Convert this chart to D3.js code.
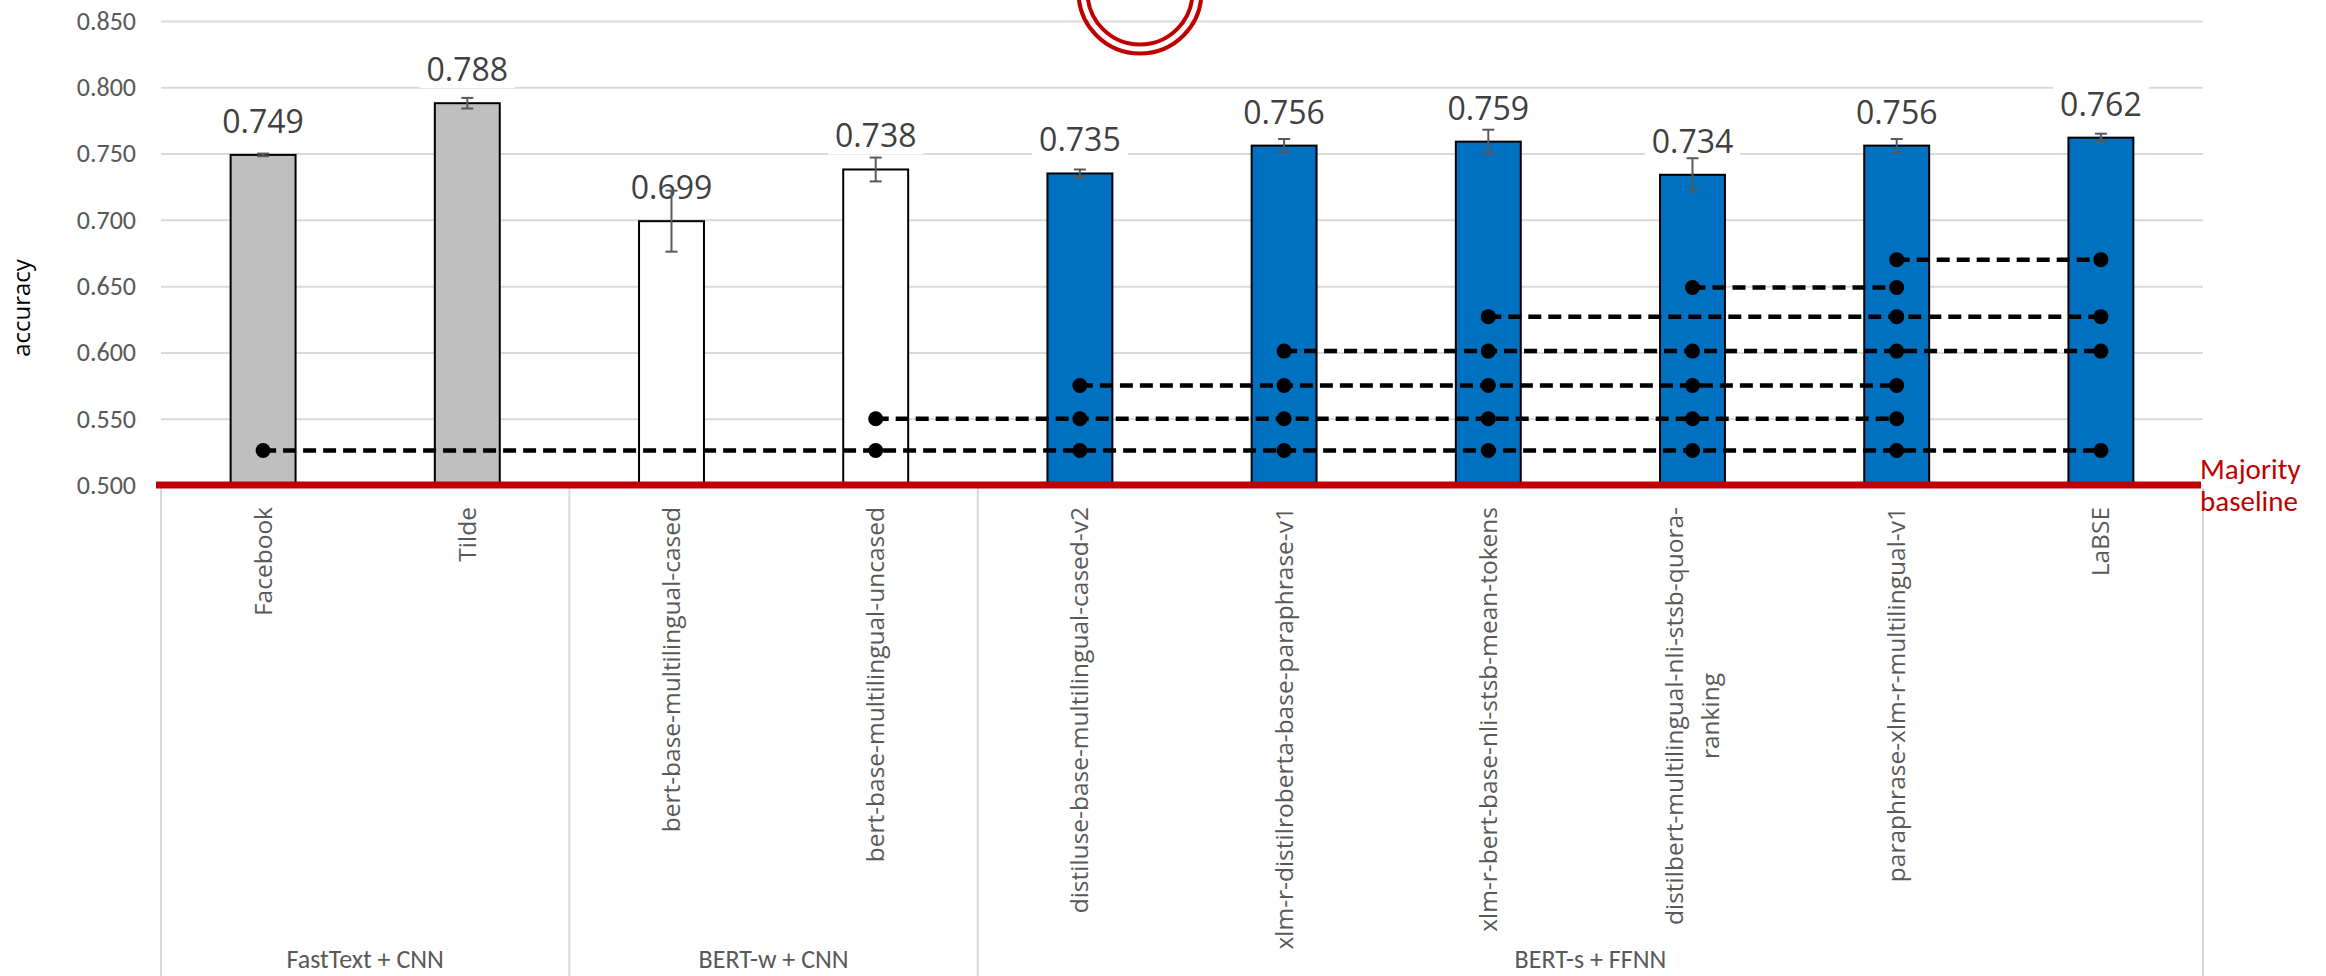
<!DOCTYPE html>
<html>
<head>
<meta charset="utf-8">
<script src="https://cdn.jsdelivr.net/npm/d3@7"></script>
<style>
  body { margin: 0; background: #fff; }
  svg { display: block; }
</style>
</head>
<body>
<script>
// data
const categories = [
  'Facebook', 'Tilde',
  'bert-base-multilingual-cased', 'bert-base-multilingual-uncased',
  'distiluse-base-multilingual-cased-v2', 'xlm-r-distilroberta-base-paraphrase-v1',
  'xlm-r-bert-base-nli-stsb-mean-tokens', 'distilbert-multilingual-nli-stsb-quora-ranking',
  'paraphrase-xlm-r-multilingual-v1', 'LaBSE'
]
const groupOf = [
  'FastText + CNN', 'FastText + CNN',
  'BERT-w + CNN', 'BERT-w + CNN',
  'BERT-s + FFNN', 'BERT-s + FFNN', 'BERT-s + FFNN', 'BERT-s + FFNN', 'BERT-s + FFNN', 'BERT-s + FFNN'
]
const accuracy = [0.749, 0.788, 0.699, 0.738, 0.735, 0.756, 0.759, 0.734, 0.756, 0.762]
const errors   = [0.001, 0.004, 0.023, 0.009, 0.003, 0.005, 0.009, 0.0125, 0.005, 0.003]
const yTicks = [0.500, 0.550, 0.600, 0.650, 0.700, 0.750, 0.800, 0.850]
const baseline = 0.500

// significance groups: level on the y axis and member indices
const sigLevels = [0.526, 0.550, 0.575, 0.601, 0.627, 0.649, 0.670]
const sigMembers = [
  [0, 3, 4, 5, 6, 7, 8, 9],
  [3, 4, 5, 6, 7, 8],
  [4, 5, 6, 7, 8],
  [5, 6, 7, 8, 9],
  [6, 8, 9],
  [7, 8],
  [8, 9]
]

const groupColor = {
  'FastText + CNN': '#BFBFBF',
  'BERT-w + CNN': '#FFFFFF',
  'BERT-s + FFNN': '#0070C0'
}

const width = 2326, height = 976
const plotL = 161, plotR = 2203, plotT = 21, plotB = 485
const sans = "'Open Sans', 'Noto Sans', sans-serif"
const narrow = "Carlito, 'Open Sans', sans-serif"
const red = '#C00000'

const svg = d3.select('body').append('svg')
  .attr('width', width)
  .attr('height', height)

const x = d3.scaleBand().domain(categories).range([plotL, plotR])
  .paddingInner(0.682).paddingOuter(0.341)
const y = d3.scaleLinear().domain([0.5, 0.85]).range([plotB, plotT])

// gridlines + y tick labels
const yAxis = svg.append('g')
  .attr('transform', `translate(${plotL},0)`)
  .call(d3.axisLeft(y).tickValues(yTicks).tickFormat(d3.format('.3f'))
    .tickSize(-(plotR - plotL)).tickPadding(25))
yAxis.select('.domain').remove()
yAxis.selectAll('.tick line').attr('stroke', '#D9D9D9').attr('stroke-width', 2)
yAxis.selectAll('.tick text')
  .attr('fill', '#595959')
  .style('font-family', narrow)
  .style('font-size', '26px')

svg.append('text')
  .attr('transform', `translate(30,${(plotT + plotB) / 2 + 55}) rotate(-90)`)
  .attr('text-anchor', 'middle')
  .style('font-family', sans)
  .style('font-size', '24px')
  .attr('fill', '#000')
  .text('accuracy')

// category separators below the axis
let step = x.step(), bw = x.bandwidth()
let bounds = [plotL]
categories.forEach((c, i) => {
  if (i > 0 && groupOf[i] !== groupOf[i - 1]) bounds.push(x(c) + bw / 2 - step / 2)
})
bounds.push(plotR)
svg.selectAll('line.sep').data(bounds).join('line')
  .attr('class', 'sep')
  .attr('x1', d => d).attr('x2', d => d)
  .attr('y1', plotB + 3).attr('y2', height)
  .attr('stroke', '#D9D9D9').attr('stroke-width', 2)

let groupNames = Array.from(new Set(groupOf))
svg.selectAll('text.group').data(groupNames).join('text')
  .attr('class', 'group')
  .attr('x', (d, i) => (bounds[i] + bounds[i + 1]) / 2)
  .attr('y', 968)
  .attr('text-anchor', 'middle')
  .attr('fill', '#595959')
  .style('font-family', narrow)
  .style('font-size', '26px')
  .text(d => d)

// rotated category labels, wrapped after a hyphen when too long
const labelSize = '24.5px'
const maxLabel = 470
categories.forEach((c, i) => {
  let cx = x(c) + bw / 2
  let g = svg.append('g').attr('transform', `translate(${cx},507) rotate(-90)`)
  let t = g.append('text')
    .attr('fill', '#595959')
    .style('font-family', sans)
    .style('font-size', labelSize)
    .attr('text-anchor', 'end')
    .attr('dy', '0.35em')
    .text(c)
  if (t.node().getComputedTextLength() > maxLabel) {
    let parts = c.split('-')
    let line1 = '', k = 0
    let lines = []
    while (k < parts.length) {
      let trial = line1 + parts[k] + (k < parts.length - 1 ? '-' : '')
      t.text(trial)
      if (t.node().getComputedTextLength() > maxLabel && line1) { lines.push(line1); line1 = '' }
      else { line1 = trial; k++ }
    }
    lines.push(line1)
    t.text('')
    t.attr('text-anchor', 'middle').attr('dy', null)
    let tmp = g.append('text').style('font-family', sans).style('font-size', labelSize).text(lines[0])
    let len0 = tmp.node().getComputedTextLength()
    tmp.remove()
    let n = lines.length
    lines.forEach((ln, j) => {
      t.append('tspan')
        .attr('x', -len0 / 2)
        .attr('y', 0)
        .attr('dy', ((j - (n - 1) / 2) * 1.5 + 0.35) + 'em')
        .text(ln)
    })
  }
})

// bars
svg.selectAll('rect.bar').data(accuracy).join('rect')
  .attr('class', 'bar')
  .attr('x', (d, i) => x(categories[i]))
  .attr('y', d => y(d))
  .attr('width', bw)
  .attr('height', d => y(baseline) - y(d))
  .attr('fill', (d, i) => groupColor[groupOf[i]])
  .attr('stroke', '#000')
  .attr('stroke-width', 2)

// data labels with white boxes
let labels = svg.append('g')
accuracy.forEach((v, i) => {
  let cx = x(categories[i]) + bw / 2
  let by = y(v) - 22
  let box = labels.append('rect').attr('fill', '#fff')
  let t = labels.append('text')
    .attr('x', cx).attr('y', by)
    .attr('text-anchor', 'middle')
    .attr('fill', '#404040')
    .style('font-family', sans)
    .style('font-size', '32px')
    .text(d3.format('.3f')(v))
  let w = t.node().getComputedTextLength()
  box.attr('x', cx - w / 2 - 7).attr('y', by - 30).attr('width', w + 14).attr('height', 37)
})

// error bars
let eb = svg.append('g').attr('stroke', '#595959').attr('stroke-width', 2)
accuracy.forEach((v, i) => {
  let cx = x(categories[i]) + bw / 2
  let y0 = y(v - errors[i]), y1 = y(v + errors[i])
  eb.append('line').attr('x1', cx).attr('x2', cx).attr('y1', y0).attr('y2', y1)
  eb.append('line').attr('x1', cx - 6).attr('x2', cx + 6).attr('y1', y0).attr('y2', y0)
  eb.append('line').attr('x1', cx - 6).attr('x2', cx + 6).attr('y1', y1).attr('y2', y1)
})

// majority baseline
svg.append('line')
  .attr('x1', plotL - 5).attr('x2', plotR - 2)
  .attr('y1', y(baseline)).attr('y2', y(baseline))
  .attr('stroke', red).attr('stroke-width', 7)

let mb = svg.append('text')
  .attr('fill', red)
  .style('font-family', narrow)
  .style('font-size', '29px')
mb.append('tspan').attr('x', plotR - 3).attr('y', y(baseline) - 6).text('Majority')
mb.append('tspan').attr('x', plotR - 3).attr('y', y(baseline) + 26).text('baseline')

// significance groups: dashed lines with dots
let sig = svg.append('g')
sigMembers.forEach((members, gi) => {
  let ly = y(sigLevels[gi])
  let xs = members.map(m => x(categories[m]) + bw / 2)
  sig.append('line')
    .attr('x1', d3.min(xs)).attr('x2', d3.max(xs))
    .attr('y1', ly).attr('y2', ly)
    .attr('stroke', '#000').attr('stroke-width', 4.5)
    .attr('stroke-dasharray', '13,7')
  sig.selectAll(null).data(xs).join('circle')
    .attr('cx', d => d).attr('cy', ly).attr('r', 7.5)
    .attr('fill', '#000')
})

// red double ring annotation at the top, cut by the page edge
let ringX = (x(categories[4]) + x(categories[5])) / 2 + bw / 2 - 42
svg.append('circle').attr('cx', ringX).attr('cy', -8).attr('r', 61.5)
  .attr('fill', 'none').attr('stroke', red).attr('stroke-width', 4)
svg.append('circle').attr('cx', ringX).attr('cy', -8).attr('r', 52.5)
  .attr('fill', 'none').attr('stroke', red).attr('stroke-width', 4)
</script>
</body>
</html>
